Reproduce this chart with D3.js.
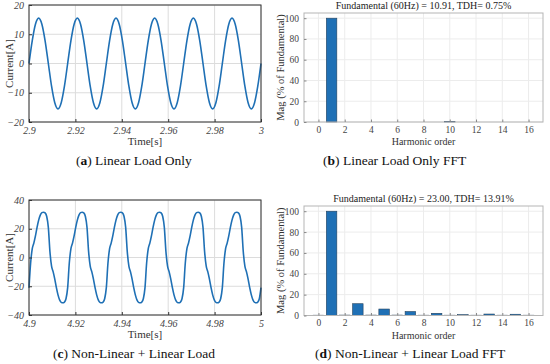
<!DOCTYPE html>
<html>
<head>
<meta charset="utf-8">
<script src="https://cdnjs.cloudflare.com/ajax/libs/d3/7.8.5/d3.min.js"></script>
<style>
  body { margin: 0; background: #fff; }
  svg { display: block; }
  text { font-family: "Liberation Serif", "Times New Roman", Times, "DejaVu Serif", serif; }
</style>
</head>
<body>
<div id="chart"></div>
<script>
// ---- data ----
// (a) linear load: samples every 1/720 s from 2.9 s
var startA = 2.9, stepA = 1 / 720;
var currentA = [
  0, 7.75, 13.42, 15.5, 13.42, 7.75, 0, -7.75, -13.42, -15.5, -13.42, -7.75,
  0, 7.75, 13.42, 15.5, 13.42, 7.75, 0, -7.75, -13.42, -15.5, -13.42, -7.75,
  0, 7.75, 13.42, 15.5, 13.42, 7.75, 0, -7.75, -13.42, -15.5, -13.42, -7.75,
  0, 7.75, 13.42, 15.5, 13.42, 7.75, 0, -7.75, -13.42, -15.5, -13.42, -7.75,
  0, 7.75, 13.42, 15.5, 13.42, 7.75, 0, -7.75, -13.42, -15.5, -13.42, -7.75,
  0, 7.75, 13.42, 15.5, 13.42, 7.75, 0, -7.75, -13.42, -15.5, -13.42, -7.75,
  0
];
// (c) non-linear + linear load: samples every 1/1440 s from 4.9 s
var startC = 4.9, stepC = 1 / 1440;
var currentC = [
  -21, -4, 6, 10, 15, 21, 26, 29.5, 31.2, 31.5, 31, 28.5, 21, 4, -6, -10, -15, -21, -26, -29.5, -31.2, -31.5, -31, -28.5,
  -21, -4, 6, 10, 15, 21, 26, 29.5, 31.2, 31.5, 31, 28.5, 21, 4, -6, -10, -15, -21, -26, -29.5, -31.2, -31.5, -31, -28.5,
  -21, -4, 6, 10, 15, 21, 26, 29.5, 31.2, 31.5, 31, 28.5, 21, 4, -6, -10, -15, -21, -26, -29.5, -31.2, -31.5, -31, -28.5,
  -21, -4, 6, 10, 15, 21, 26, 29.5, 31.2, 31.5, 31, 28.5, 21, 4, -6, -10, -15, -21, -26, -29.5, -31.2, -31.5, -31, -28.5,
  -21, -4, 6, 10, 15, 21, 26, 29.5, 31.2, 31.5, 31, 28.5, 21, 4, -6, -10, -15, -21, -26, -29.5, -31.2, -31.5, -31, -28.5,
  -21, -4, 6, 10, 15, 21, 26, 29.5, 31.2, 31.5, 31, 28.5, 21, 4, -6, -10, -15, -21, -26, -29.5, -31.2, -31.5, -31, -28.5,
  -21
];
var timeTicksA = [2.9, 2.92, 2.94, 2.96, 2.98, 3];
var timeTicksC = [4.9, 4.92, 4.94, 4.96, 4.98, 5];
var currentTicksA = [-20, -10, 0, 10, 20];
var currentTicksC = [-40, -20, 0, 20, 40];

var harmonics = [0, 1, 2, 3, 4, 5, 6, 7, 8, 9, 10, 11, 12, 13, 14, 15, 16];
var magB = [0, 100, 0, 0, 0, 0, 0, 0, 0, 0, 0.4, 0, 0, 0, 0, 0, 0];
var magD = [0.3, 100, 0.4, 11.3, 0.4, 6.2, 0.4, 3.8, 0.3, 2.1, 0.3, 0.8, 0.3, 1.4, 0.3, 1.2, 0.3];
var harmTicks = [0, 2, 4, 6, 8, 10, 12, 14, 16];
var magTicks = [0, 20, 40, 60, 80, 100];

var titleB = "Fundamental (60Hz) = 10.91, TDH= 0.75%";
var titleD = "Fundamental (60Hz) = 23.00, TDH= 13.91%";

var blue = "#1f70b5";
var serif = "'Liberation Serif', 'Times New Roman', Times, 'DejaVu Serif', serif";

var svg = d3.select("#chart").append("svg")
    .attr("width", 550)
    .attr("height", 364);

// ---- waveform panel ----
function drawWave(o) {
  var x = d3.scaleLinear().domain(o.xDomain).range([o.left, o.right]),
      y = d3.scaleLinear().domain(o.yDomain).range([o.bottom, o.top]);
  var g = svg.append("g");

  // grid
  g.selectAll(".gx").data(o.xTicks).enter().append("line")
      .attr("x1", function(d) { return x(d); }).attr("x2", function(d) { return x(d); })
      .attr("y1", o.top).attr("y2", o.bottom)
      .attr("stroke", "#dcdcdc").attr("stroke-width", 1);
  g.selectAll(".gy").data(o.yTicks).enter().append("line")
      .attr("x1", o.left).attr("x2", o.right)
      .attr("y1", function(d) { return y(d); }).attr("y2", function(d) { return y(d); })
      .attr("stroke", "#dcdcdc").attr("stroke-width", 1);

  var pts = o.values.map(function(v, i) { return [o.start + i * o.step, v]; });
  var line = d3.line()
      .x(function(d) { return x(d[0]); })
      .y(function(d) { return y(d[1]); })
      .curve(d3.curveMonotoneX);
  g.append("path")
      .datum(pts)
      .attr("d", line)
      .attr("fill", "none")
      .attr("stroke", blue)
      .attr("stroke-width", 1.6);

  g.append("rect")
      .attr("x", o.left).attr("y", o.top)
      .attr("width", o.right - o.left).attr("height", o.bottom - o.top)
      .attr("fill", "none").attr("stroke", "#333").attr("stroke-width", 1);

  var xAxis = d3.axisBottom(x).tickValues(o.xTicks).tickSize(-3).tickPadding(5)
      .tickFormat(d3.format(""));
  var gx = g.append("g").attr("transform", "translate(0," + o.bottom + ")").call(xAxis);
  var yAxis = d3.axisLeft(y).tickValues(o.yTicks).tickSize(-3).tickPadding(5);
  var gy = g.append("g").attr("transform", "translate(" + o.left + ",0)").call(yAxis);
  [gx, gy].forEach(function(a) {
    a.attr("font-family", null).attr("font-size", null);
    a.select(".domain").remove();
    a.selectAll(".tick line").attr("stroke", "#333");
    a.selectAll(".tick text")
        .attr("fill", "#444")
        .style("font-family", serif)
        .style("font-style", "italic")
        .style("font-size", "10px");
  });

  g.append("text")
      .attr("x", (o.left + o.right) / 2).attr("y", o.bottom + 23)
      .attr("text-anchor", "middle")
      .style("font-family", serif).style("font-size", "11px")
      .attr("fill", "#333")
      .text("Time[s]");
  g.append("text")
      .attr("transform", "translate(13," + ((o.top + o.bottom) / 2) + ") rotate(-90)")
      .attr("text-anchor", "middle")
      .style("font-family", serif).style("font-size", "11px")
      .attr("fill", "#333")
      .text("Current[A]");
}

// ---- FFT panel ----
function drawFFT(o) {
  var x = d3.scaleLinear().domain([-1.1, 17.1]).range([o.left, o.right]),
      y = d3.scaleLinear().domain([0, 105]).range([o.bottom, o.top]);
  var g = svg.append("g");

  g.selectAll(".gx").data(harmTicks).enter().append("line")
      .attr("x1", function(d) { return x(d); }).attr("x2", function(d) { return x(d); })
      .attr("y1", o.top).attr("y2", o.bottom)
      .attr("stroke", "#ececec");
  g.selectAll(".gy").data(magTicks).enter().append("line")
      .attr("x1", o.left).attr("x2", o.right)
      .attr("y1", function(d) { return y(d); }).attr("y2", function(d) { return y(d); })
      .attr("stroke", "#ececec");

  var bw = x(0.8) - x(0);
  g.selectAll(".bar").data(o.values).enter().append("rect")
      .attr("x", function(d, i) { return x(harmonics[i]) - bw / 2; })
      .attr("y", function(d) { return y(d); })
      .attr("width", bw)
      .attr("height", function(d) { return y(0) - y(d); })
      .attr("fill", blue)
      .attr("stroke", "#24425e")
      .attr("stroke-width", 0.6);

  g.append("rect")
      .attr("x", o.left).attr("y", o.top)
      .attr("width", o.right - o.left).attr("height", o.bottom - o.top)
      .attr("fill", "none").attr("stroke", "#b5b5b5").attr("stroke-width", 1);

  var xAxis = d3.axisBottom(x).tickValues(harmTicks).tickSize(-2.5).tickPadding(4);
  var gx = g.append("g").attr("transform", "translate(0," + o.bottom + ")").call(xAxis);
  var yAxis = d3.axisLeft(y).tickValues(magTicks).tickSize(-2.5).tickPadding(5);
  var gy = g.append("g").attr("transform", "translate(" + o.left + ",0)").call(yAxis);
  [gx, gy].forEach(function(a) {
    a.attr("font-family", null).attr("font-size", null);
    a.select(".domain").remove();
    a.selectAll(".tick line").attr("stroke", "#888");
    a.selectAll(".tick text")
        .attr("fill", "#444")
        .style("font-family", serif)
        .style("font-size", "9.5px");
  });

  g.append("text")
      .attr("x", (o.left + o.right) / 2).attr("y", o.top - 4)
      .attr("text-anchor", "middle")
      .style("font-family", serif).style("font-size", "10px")
      .attr("fill", "#222")
      .text(o.title);
  g.append("text")
      .attr("x", (o.left + o.right) / 2).attr("y", o.bottom + 23)
      .attr("text-anchor", "middle")
      .style("font-family", serif).style("font-size", "10px")
      .attr("fill", "#333")
      .text("Harmonic order");
  g.append("text")
      .attr("transform", "translate(284," + ((o.top + o.bottom) / 2) + ") rotate(-90)")
      .attr("text-anchor", "middle")
      .style("font-family", serif).style("font-size", "10.5px")
      .attr("fill", "#333")
      .text("Mag (% of Fundamental)");
}

function caption(x, y, letter, rest) {
  var t = svg.append("text")
      .attr("x", x).attr("y", y)
      .style("font-family", serif)
      .style("font-size", "13.5px")
      .attr("fill", "#111");
  t.append("tspan").text("(");
  t.append("tspan").style("font-weight", "bold").text(letter);
  t.append("tspan").text(") " + rest);
}

drawWave({ left: 29, right: 261, top: 5, bottom: 122, xDomain: [2.9, 3], yDomain: [-20, 20],
           xTicks: timeTicksA, yTicks: currentTicksA, values: currentA, start: startA, step: stepA });
drawWave({ left: 29, right: 261, top: 200, bottom: 315, xDomain: [4.9, 5], yDomain: [-40, 40],
           xTicks: timeTicksC, yTicks: currentTicksC, values: currentC, start: startC, step: stepC });
drawFFT({ left: 304, right: 543, top: 13, bottom: 122, values: magB, title: titleB });
drawFFT({ left: 304, right: 543, top: 206, bottom: 315.5, values: magD, title: titleD });

caption(76, 165, "a", "Linear Load Only");
caption(323, 165, "b", "Linear Load Only FFT");
caption(53, 358, "c", "Non-Linear + Linear Load");
caption(315, 358, "d", "Non-Linear + Linear Load FFT");
</script>
</body>
</html>
